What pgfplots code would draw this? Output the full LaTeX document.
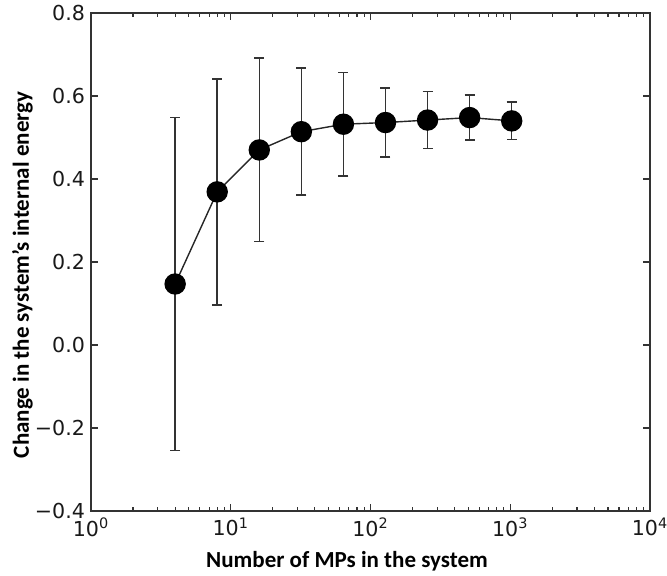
\documentclass[border=0pt]{standalone}
\usepackage{fontspec}
\setmainfont{Carlito}
\newfontfamily\dejavu{DejaVu Sans}
\usepackage{pgfplots}
\pgfplotsset{compat=1.18}
\begin{document}
\begin{tikzpicture}
\useasboundingbox (-45.5pt,-32pt) rectangle (288pt,255.5pt);
\begin{axis}[
  at={(0,0)}, anchor=south west,
  scale only axis, width=279.5pt, height=249pt,
  xmode=log, xmin=1, xmax=10000,
  ymin=-0.4, ymax=0.8,
  xtick={1,10,100,1000,10000},
  xticklabels={10\textsuperscript{0},10\textsuperscript{1},10\textsuperscript{2},10\textsuperscript{3},10\textsuperscript{4}},
  ytick={-0.4,-0.2,0,0.2,0.4,0.6,0.8},
  yticklabels={−0.4,−0.2,0.0,0.2,0.4,0.6,0.8},
  tick label style={font=\dejavu\fontsize{10.3}{12}\selectfont, text=black!90},
  yticklabel style={xshift=0.5pt},
  tick align=inside,
  major tick length=3.5pt, minor tick length=2pt,
  every tick/.style={black!80, line width=0.6pt},
  axis line style={black!80, line width=0.8pt},
  xtick pos=both, ytick pos=both,
  xlabel={\bfseries Number of MPs in the system},
  ylabel={\bfseries Change in the system's internal energy},
  xlabel style={font=\fontsize{11.5}{12}\selectfont, at={(axis description cs:0.458,-0.1004)}, anchor=center},
  ylabel style={font=\fontsize{11.5}{12}\selectfont, at={(axis description cs:-0.1225,0.474)}, anchor=center},
]
\addplot[black!85, line width=0.7pt,
  mark=*, mark size=5pt, mark options={fill=black, draw=black},
  error bars/.cd, y dir=both, y explicit,
  error bar style={black!80, line width=0.75pt},
  error mark options={rotate=90, mark size=2.5pt, black!80, line width=0.75pt}]
coordinates {
(4,0.147) +- (0,0.401)
(8,0.369) +- (0,0.272)
(16,0.470) +- (0,0.221)
(32,0.514) +- (0,0.153)
(64,0.532) +- (0,0.125)
(128,0.536) +- (0,0.083)
(256,0.542) +- (0,0.069)
(512,0.548) +- (0,0.054)
(1024,0.540) +- (0,0.045)
};
\end{axis}
\end{tikzpicture}
\end{document}
